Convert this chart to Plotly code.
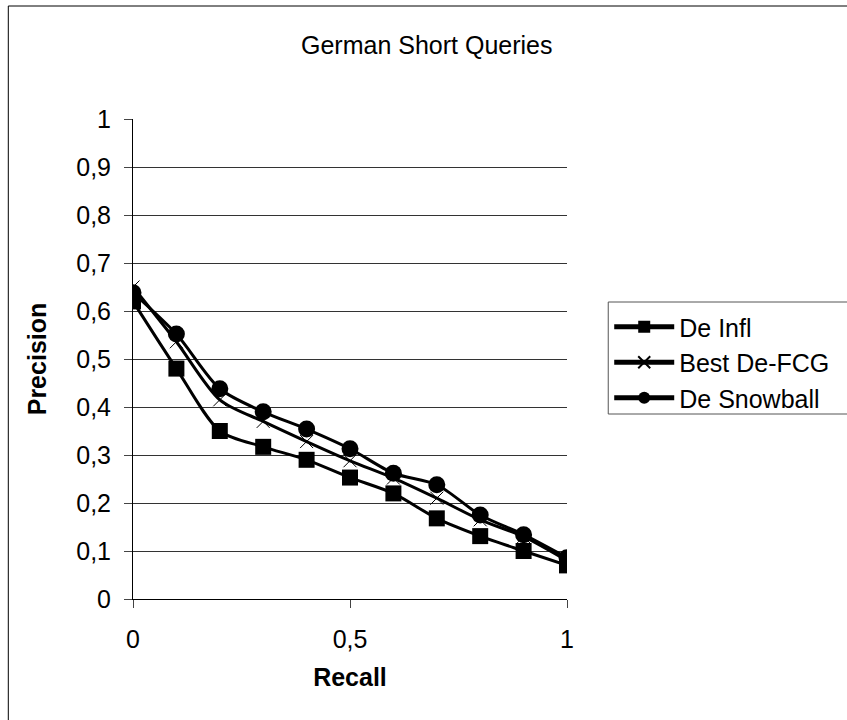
import plotly.graph_objects as go

# Data
recall = [0, 0.1, 0.2, 0.3, 0.4, 0.5, 0.6, 0.7, 0.8, 0.9, 1.0]
de_infl = [0.62, 0.48, 0.35, 0.317, 0.29, 0.253, 0.22, 0.168, 0.131, 0.10, 0.07]
best_de_fcg = [0.65, 0.536, 0.415, 0.37, 0.328, 0.288, 0.252, 0.21, 0.165, 0.13, 0.08]
de_snowball = [0.638, 0.552, 0.438, 0.39, 0.354, 0.313, 0.262, 0.238, 0.175, 0.134, 0.086]

y_ticks = [0, 0.1, 0.2, 0.3, 0.4, 0.5, 0.6, 0.7, 0.8, 0.9, 1]
x_ticks = [0, 0.5, 1]

W, H = 847, 720
L, R, T, B = 133, 575, 119, 599
FONT = "Liberation Sans, Arial, sans-serif"
FS = 25


def px(x):
    return (x - L) / (R - L)


def py(y):
    return (B - y) / (B - T)


line_style = dict(color="black", width=3, shape="spline", smoothing=0.8)

fig = go.Figure()

fig.add_trace(go.Scatter(
    x=recall, y=de_infl, name="De Infl", mode="lines+markers",
    line=line_style,
    marker=dict(symbol="square", size=16, color="black"),
))
fig.add_trace(go.Scatter(
    x=recall, y=best_de_fcg, name="Best De-FCG", mode="lines+markers",
    line=line_style,
    marker=dict(symbol="x-thin", size=13, color="black",
                line=dict(color="black", width=1)),
))
fig.add_trace(go.Scatter(
    x=recall, y=de_snowball, name="De Snowball", mode="lines+markers",
    line=line_style,
    marker=dict(symbol="circle", size=17, color="black"),
))

fig.update_layout(
    width=W, height=H,
    margin=dict(l=L, r=W - R, t=T, b=H - B),
    paper_bgcolor="white", plot_bgcolor="white",
    separators=", ",
    font=dict(family=FONT, size=FS, color="black"),
    showlegend=True,
    legend=dict(
        x=px(618), y=py(304), xanchor="left", yanchor="top",
        borderwidth=0, bgcolor="rgba(0,0,0,0)",
        font=dict(family=FONT, size=FS, color="black"),
        itemsizing="constant", itemwidth=60,
    ),
    xaxis=dict(
        range=[0, 1], tickvals=x_ticks, showgrid=False, zeroline=False,
        showline=True, linecolor="black", linewidth=1,
        ticks="outside", ticklen=8, tickcolor="#444",
        ticklabelstandoff=10,
        title=dict(text="<b>Recall</b>", font=dict(family=FONT, size=FS), standoff=16),
    ),
    yaxis=dict(
        range=[0, 1], tickvals=y_ticks, showgrid=True, gridcolor="#333",
        gridwidth=1, zeroline=False,
        showline=True, linecolor="black", linewidth=1,
        ticks="outside", ticklen=8, tickcolor="#444",
        ticklabelstandoff=8,
        title=dict(text="<b>Precision</b>", font=dict(family=FONT, size=FS), standoff=22),
    ),
    annotations=[dict(
        text="German Short Queries", xref="paper", yref="paper",
        x=px(432), y=py(45), xanchor="center", yanchor="middle",
        showarrow=False, font=dict(family=FONT, size=FS, color="black"),
    )],
    shapes=[
        # chart frame, running off the right and bottom edges as in the reference
        dict(type="rect", xref="paper", yref="paper",
             x0=px(6), x1=px(880), y0=py(760), y1=py(6),
             line=dict(color="black", width=1), layer="below"),
        # legend box, also cut off by the right edge
        dict(type="rect", xref="paper", yref="paper",
             x0=px(617), x1=px(900), y0=py(414), y1=py(302),
             line=dict(color="#555", width=1), layer="below"),
    ],
)

fig.write_html("out.html", config={"displayModeBar": False},
               post_script="document.body.style.margin='0px';")
